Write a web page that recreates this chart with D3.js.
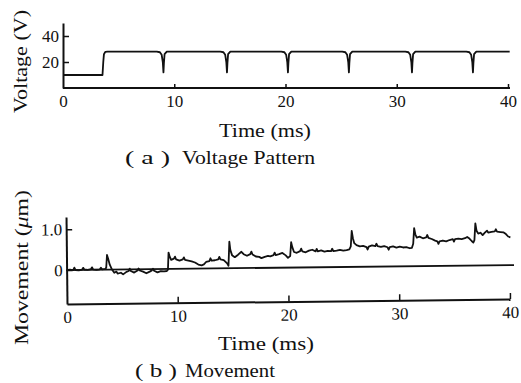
<!DOCTYPE html>
<html>
<head>
<meta charset="utf-8">
<script src="https://cdn.jsdelivr.net/npm/d3@7"></script>
<style>
  body { margin: 0; background: #fff; }
  svg { display: block; }
  .trace { fill: none; stroke: #111; stroke-width: 1.8; stroke-linejoin: round; }
</style>
</head>
<body>
<div id="chart"></div>
<script>
// (a) voltage pattern [time ms, volts]
var voltage = [
  [0, 10], [3.55, 10], [3.62, 20], [3.68, 26], [3.8, 27.8], [4.0, 28],
  [8.43, 28], [8.71, 27.5], [8.87, 25.5], [8.97, 20], [9.03, 12], [9.07, 19], [9.13, 26], [9.33, 28],
  [14.14, 28], [14.42, 27.5], [14.58, 25.5], [14.68, 20], [14.74, 12], [14.78, 19], [14.84, 26], [15.04, 28],
  [19.62, 28], [19.9, 27.5], [20.06, 25.5], [20.16, 20], [20.22, 12], [20.26, 19], [20.32, 26], [20.52, 28],
  [25.1, 28], [25.38, 27.5], [25.54, 25.5], [25.64, 20], [25.7, 12], [25.74, 19], [25.8, 26], [26.0, 28],
  [30.77, 28], [31.05, 27.5], [31.21, 25.5], [31.31, 20], [31.37, 12], [31.41, 19], [31.47, 26], [31.67, 28],
  [36.25, 28], [36.53, 27.5], [36.69, 25.5], [36.79, 20], [36.85, 12], [36.89, 19], [36.95, 26], [37.15, 28],
  [40.15, 28]
];

// (b) movement [time ms, um]
var movement = [
  [0, 0], [0.3, 0.01], [0.6, 0], [0.7, 0.06], [0.8, 0], [1.1, -0.01], [1.4, 0.01], [1.5, 0.05], [1.6, 0.01],
  [1.9, 0], [2.2, 0.02], [2.3, 0.06], [2.4, 0.01], [2.7, 0], [3.0, 0.01], [3.1, 0.05], [3.2, 0.01], [3.5, 0.02],
  [3.58, 0.05], [3.66, 0.36], [3.75, 0.28], [3.9, 0.12], [4.1, 0.0], [4.3, -0.08],
  [4.5, -0.05], [4.6, -0.1], [4.9, -0.08], [5.1, -0.12], [5.4, -0.06], [5.6, -0.04], [5.7, 0.02], [5.8, -0.04],
  [6.1, -0.08], [6.4, -0.03], [6.5, 0.02], [6.6, -0.03], [6.9, -0.06], [7.2, -0.1], [7.5, -0.06], [7.7, -0.03],
  [7.8, 0.01], [7.9, -0.04], [8.2, -0.08], [8.5, -0.05], [8.8, -0.06], [9.05, -0.05],
  [9.15, -0.02], [9.22, 0.4], [9.32, 0.3], [9.45, 0.22], [9.7, 0.25], [9.8, 0.3], [9.9, 0.23], [10.2, 0.2],
  [10.5, 0.23], [10.6, 0.28], [10.7, 0.22], [11.0, 0.2], [11.3, 0.18], [11.6, 0.15], [11.9, 0.1], [12.2, 0.08],
  [12.4, 0.1], [12.6, 0.16], [12.9, 0.18], [13.0, 0.25], [13.1, 0.19], [13.4, 0.2], [13.7, 0.22], [13.8, 0.28],
  [13.9, 0.22], [14.2, 0.2], [14.5, 0.12], [14.62, 0.06],
  [14.72, 0.65], [14.8, 0.45], [14.95, 0.32], [15.2, 0.27], [15.5, 0.33], [15.8, 0.4], [16.0, 0.34], [16.3, 0.3],
  [16.6, 0.34], [16.7, 0.4], [16.8, 0.33], [17.1, 0.28], [17.4, 0.27], [17.6, 0.24], [17.9, 0.27], [18.2, 0.29],
  [18.4, 0.28], [18.7, 0.31], [18.8, 0.37], [18.9, 0.31], [19.2, 0.33], [19.5, 0.36], [19.8, 0.3], [20.0, 0.24],
  [20.2, 0.28],
  [20.3, 0.62], [20.4, 0.5], [20.55, 0.38], [20.8, 0.36], [21.1, 0.4], [21.2, 0.46], [21.3, 0.39], [21.6, 0.37],
  [21.9, 0.41], [22.2, 0.43], [22.5, 0.39], [22.6, 0.45], [22.7, 0.39], [23.0, 0.41], [23.3, 0.38], [23.6, 0.4],
  [23.9, 0.39], [24.0, 0.45], [24.1, 0.39], [24.4, 0.4], [24.7, 0.42], [25.0, 0.4], [25.3, 0.41], [25.55, 0.43],
  [25.68, 0.5],
  [25.78, 0.88], [25.88, 0.7], [26.0, 0.58], [26.2, 0.53], [26.5, 0.5], [26.8, 0.51], [27.1, 0.48], [27.2, 0.42],
  [27.3, 0.49], [27.6, 0.52], [27.9, 0.5], [28.0, 0.56], [28.1, 0.5], [28.4, 0.48], [28.7, 0.5], [29.0, 0.47],
  [29.1, 0.41], [29.2, 0.47], [29.5, 0.49], [29.8, 0.46], [30.1, 0.48], [30.4, 0.46], [30.7, 0.47], [31.0, 0.44],
  [31.2, 0.45], [31.32, 0.55],
  [31.42, 0.93], [31.52, 0.78], [31.65, 0.7], [31.9, 0.72], [32.2, 0.68], [32.5, 0.7], [32.6, 0.76], [32.7, 0.69],
  [33.0, 0.66], [33.3, 0.62], [33.5, 0.6], [33.6, 0.54], [33.7, 0.6], [34.0, 0.62], [34.3, 0.6], [34.6, 0.63],
  [34.9, 0.65], [35.0, 0.59], [35.1, 0.65], [35.4, 0.66], [35.7, 0.65], [36.0, 0.67], [36.2, 0.7], [36.4, 0.66],
  [36.6, 0.6], [36.75, 0.56], [36.85, 0.62],
  [36.95, 1.03], [37.05, 0.85], [37.2, 0.78], [37.4, 0.8], [37.6, 0.74], [37.8, 0.8], [38.0, 0.85], [38.1, 0.8],
  [38.4, 0.82], [38.7, 0.83], [38.8, 0.88], [38.9, 0.82], [39.2, 0.81], [39.5, 0.8], [39.7, 0.76], [39.9, 0.7],
  [40.1, 0.68]
];
var baseline = [[0, 0], [40.4, 0]];

var xTicks = [0, 10, 20, 30, 40];
var voltTicks = [20, 40];
var moveTicks = [0, 1.0];

var serif = "'Liberation Serif'";

var svg = d3.select("#chart").append("svg")
  .attr("width", 521)
  .attr("height", 383);

// helper for the plain serif labels, stretched to the widths seen in the picture
function label(parent, x, y, txt, len, size, rot) {
  var t = parent.append("text")
    .style("font-family", serif)
    .style("font-size", size + "px")
    .style("fill", "#111")
    .attr("textLength", len)
    .attr("lengthAdjust", "spacingAndGlyphs")
    .text(txt);
  if (rot) t.attr("transform", "translate(" + x + "," + y + ") rotate(-90)");
  else t.attr("x", x).attr("y", y);
  return t;
}

function styleAxis(g) {
  g.select(".domain").attr("stroke", "#111").attr("stroke-width", 2);
  g.selectAll(".tick line").attr("stroke", "#111").attr("stroke-width", 1.5);
  g.selectAll(".tick text")
    .style("font-family", serif)
    .style("font-size", "17px")
    .style("fill", "#111");
}

// ****************** (a) Voltage ***************************
var xA = d3.scaleLinear().domain([0, 40]).range([63, 508]);
var yA = d3.scaleLinear().domain([0, 50]).range([88, 23]);

var gA = svg.append("g");

gA.append("g")
  .attr("transform", "translate(0,88)")
  .call(d3.axisBottom(xA).tickValues(xTicks).tickSize(-4).tickSizeOuter(0).tickPadding(7))
  .call(styleAxis)
  .call(function(g) {
    g.select(".domain").attr("d", "M63,0H510");
    g.selectAll(".tick line").filter(function(d) { return d === 0; }).remove();
  });

gA.append("g")
  .attr("transform", "translate(63,0)")
  .call(d3.axisLeft(yA).tickValues(voltTicks).tickSize(-6).tickSizeOuter(0).tickPadding(4))
  .call(styleAxis);

var lineA = d3.line()
  .x(function(d) { return xA(d[0]); })
  .y(function(d) { return yA(d[1]); });

gA.append("path")
  .attr("class", "trace")
  .attr("d", lineA(voltage));

// Voltage (V) : spans y 10..113
label(svg, 27, 113, "Voltage (V)", 103, 19, true);
label(svg, 219, 137, "Time (ms)", 92, 19);
label(svg, 125, 164, "( a )", 45, 19);
label(svg, 182, 164, "Voltage Pattern", 133, 19);

// ****************** (b) Movement ***************************
var xB = d3.scaleLinear().domain([0, 40]).range([67, 510]);
var yB = d3.scaleLinear().domain([-0.83, 1.3]).range([304, 217]);

// the lower panel is printed slightly tilted
var gB = svg.append("g")
  .attr("transform", "rotate(-0.65,67,304)");

gB.append("g")
  .attr("transform", "translate(0,304)")
  .call(d3.axisBottom(xB).tickValues(xTicks).tickSize(-6).tickSizeOuter(0).tickPadding(7))
  .call(styleAxis)
  .call(function(g) {
    g.selectAll(".tick line").filter(function(d) { return d === 0; }).remove();
  });

gB.append("g")
  .attr("transform", "translate(67,0)")
  .call(d3.axisLeft(yB).tickValues(moveTicks).tickSize(-6).tickSizeOuter(0).tickPadding(4)
    .tickFormat(function(d) { return d === 0 ? "0" : d3.format(".1f")(d); }))
  .call(styleAxis);

var lineB = d3.line()
  .x(function(d) { return xB(d[0]); })
  .y(function(d) { return yB(d[1]); });

gB.append("path")
  .attr("class", "trace")
  .attr("d", lineB(baseline));

gB.append("path")
  .attr("class", "trace")
  .attr("d", lineB(movement));

// Movement (um) : spans y 190..345
var yLab = svg.append("text")
  .style("font-family", serif)
  .style("font-size", "19px")
  .style("fill", "#111")
  .attr("transform", "translate(28,345) rotate(-90)")
  .attr("textLength", 155)
  .attr("lengthAdjust", "spacingAndGlyphs");
yLab.append("tspan").text("Movement (");
yLab.append("tspan").style("font-style", "italic").text("\u03bc");
yLab.append("tspan").text("m)");

label(svg, 218, 350, "Time (ms)", 96, 19);
label(svg, 135, 377, "( b )", 42, 19);
label(svg, 185, 377, "Movement", 90, 19);
</script>
</body>
</html>
